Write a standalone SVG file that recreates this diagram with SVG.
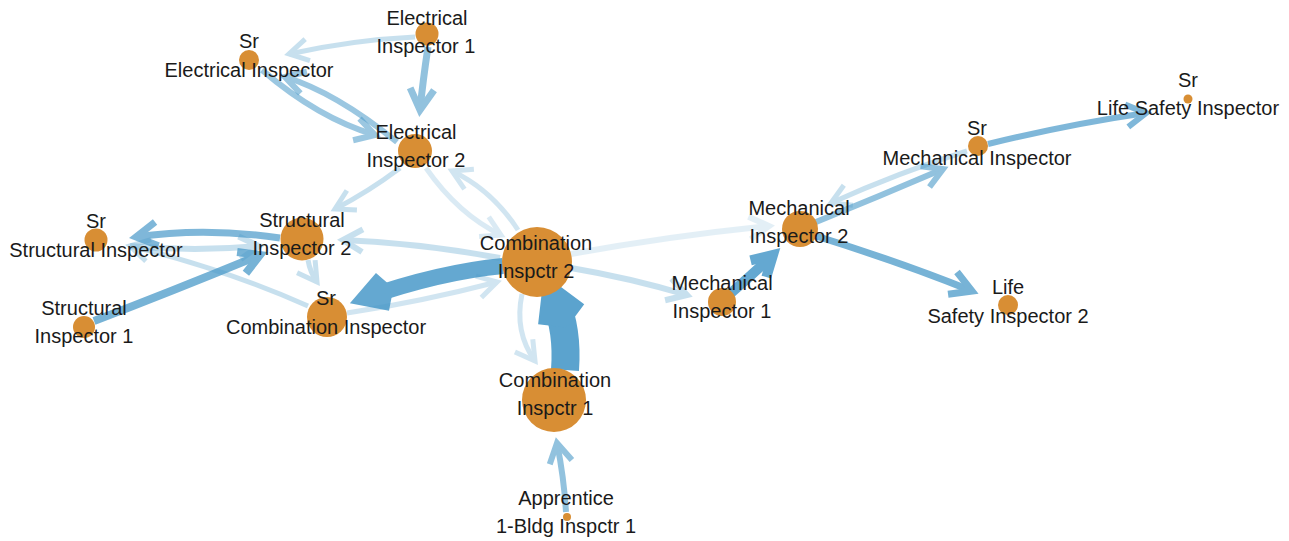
<svg xmlns="http://www.w3.org/2000/svg" width="1289" height="541" viewBox="0 0 1289 541">
  <style>
    .bg { fill: #ffffff; }
    .edge { fill: none; stroke: #4a9ac9; stroke-linecap: butt; }
    .head { fill: none; stroke: #4a9ac9; stroke-linejoin: miter; stroke-linecap: butt; }
    .node circle { fill: #d88e34; }
    .node text { font-family: "Liberation Sans", Arial, Helvetica, sans-serif; font-size: 20px; fill: #1a1a1a; text-anchor: middle; }
    .w4 { stroke-width: 5; marker-end: url(#a4); }
    .w5 { stroke-width: 6; marker-end: url(#a5); }
    .w6 { stroke-width: 7; marker-end: url(#a6); }
    .w7 { stroke-width: 8; marker-end: url(#a7); }
    .w9 { stroke-width: 10; marker-end: url(#a9); }
    .w14 { stroke-width: 16; marker-end: url(#a14); }
    .w28 { stroke-width: 28; marker-end: url(#a28); }
  </style>
  <defs>
    <!-- open chevron heads, one per line width -->
    <marker id="a4" markerUnits="userSpaceOnUse" orient="auto" overflow="visible" markerWidth="1" markerHeight="1" refX="0" refY="0">
      <path class="head" stroke-width="5" d="M-19,-11 L0,0 L-19,11"/>
    </marker>
    <marker id="a5" markerUnits="userSpaceOnUse" orient="auto" overflow="visible" markerWidth="1" markerHeight="1" refX="0" refY="0">
      <path class="head" stroke-width="6" d="M-19.5,-11.3 L0,0 L-19.5,11.3"/>
    </marker>
    <marker id="a6" markerUnits="userSpaceOnUse" orient="auto" overflow="visible" markerWidth="1" markerHeight="1" refX="0" refY="0">
      <path class="head" stroke-width="7" d="M-21,-12 L0,0 L-21,12"/>
    </marker>
    <marker id="a7" markerUnits="userSpaceOnUse" orient="auto" overflow="visible" markerWidth="1" markerHeight="1" refX="0" refY="0">
      <path class="head" stroke-width="8" d="M-20,-11.5 L0,0 L-20,11.5"/>
    </marker>
    <marker id="a9" markerUnits="userSpaceOnUse" orient="auto" overflow="visible" markerWidth="1" markerHeight="1" refX="0" refY="0">
      <path class="head" stroke-width="10" d="M-20,-11.5 L0,0 L-20,11.5"/>
    </marker>
    <marker id="a14" markerUnits="userSpaceOnUse" orient="auto" overflow="visible" markerWidth="1" markerHeight="1" refX="0" refY="0">
      <path class="head" stroke-width="16" d="M-22.5,-13 L0,0 L-22.5,13"/>
    </marker>
    <marker id="a28" markerUnits="userSpaceOnUse" orient="auto" overflow="visible" markerWidth="1" markerHeight="1" refX="0" refY="0">
      <path class="head" stroke-width="28" d="M-22.5,-13 L0,0 L-22.5,13"/>
    </marker>
  </defs>

  <rect class="bg" x="0" y="0" width="1289" height="541"/>

  <g id="edges">
    <path class="edge w4" opacity="0.3" d="M415,37 Q352,40 289,54"/>
    <path class="edge w6" opacity="0.6" d="M428,47 Q423,80 420,110"/>
    <path class="edge w5" opacity="0.55" d="M262,70 Q318,118 375,135"/>
    <path class="edge w5" opacity="0.55" d="M397,142 Q335,92 285,77"/>
    <path class="edge w4" opacity="0.3" d="M400,168 Q368,192 335,209"/>
    <path class="edge w4" opacity="0.25" d="M518,230 Q492,190 452,171"/>
    <path class="edge w4" opacity="0.2" d="M426,168 Q458,214 501,235"/>
    <path class="edge w5" opacity="0.3" d="M500,258 Q420,243 343,240"/>
    <path class="edge w6" opacity="0.7" d="M280,238 Q205,227 136,237"/>
    <path class="edge w5" opacity="0.3" d="M130,246 Q195,252 259,246"/>
    <path class="edge w7" opacity="0.75" d="M94,321 Q175,290 260,255"/>
    <path class="edge w4" opacity="0.3" d="M308,306 Q222,268 130,246"/>
    <path class="edge w4" opacity="0.3" d="M308,260 Q310,272 317,282"/>
    <path class="edge w14" opacity="0.85" d="M503,266 Q440,272 365,298"/>
    <path class="edge w4" opacity="0.25" d="M347,313 Q420,302 497,282"/>
    <path class="edge w4" opacity="0.25" d="M522,294 Q514,332 535,361"/>
    <path class="edge w28" opacity="0.9" d="M565,370 Q568,330 555,300"/>
    <path class="edge w5" opacity="0.6" d="M566,512 Q564,478 557,443"/>
    <path class="edge w5" opacity="0.3" d="M571,268 Q630,278 687,295"/>
    <path class="edge w5" opacity="0.15" d="M571,254 Q670,236 769,226"/>
    <path class="edge w9" opacity="0.85" d="M731,293 Q755,272 773,255"/>
    <path class="edge w5" opacity="0.6" d="M816,222 Q880,196 943,169"/>
    <path class="edge w4" opacity="0.3" d="M967,151 Q900,172 831,203"/>
    <path class="edge w6" opacity="0.75" d="M816,236 Q900,262 972,291"/>
    <path class="edge w5" opacity="0.7" d="M988,144 Q1070,124 1146,113"/>
  </g>

  <g id="node-electrical-inspector-1" class="node">
    <circle cx="427" cy="34" r="11.5"/>
    <text x="427" y="25">Electrical</text>
    <text x="426" y="53">Inspector 1</text>
  </g>
  <g id="node-sr-electrical-inspector" class="node">
    <circle cx="249" cy="60" r="10"/>
    <text x="249" y="48">Sr</text>
    <text x="249" y="77">Electrical Inspector</text>
  </g>
  <g id="node-electrical-inspector-2" class="node">
    <circle cx="415" cy="151" r="17"/>
    <text x="416" y="139">Electrical</text>
    <text x="416" y="167">Inspector 2</text>
  </g>
  <g id="node-structural-inspector-2" class="node">
    <circle cx="302" cy="239" r="21.5"/>
    <text x="302" y="227">Structural</text>
    <text x="302" y="255">Inspector 2</text>
  </g>
  <g id="node-sr-structural-inspector" class="node">
    <circle cx="96" cy="240" r="11.5"/>
    <text x="96" y="228">Sr</text>
    <text x="96" y="257">Structural Inspector</text>
  </g>
  <g id="node-structural-inspector-1" class="node">
    <circle cx="84" cy="327" r="11"/>
    <text x="84" y="315">Structural</text>
    <text x="84" y="343">Inspector 1</text>
  </g>
  <g id="node-sr-combination-inspector" class="node">
    <circle cx="327" cy="317" r="20"/>
    <text x="326" y="305">Sr</text>
    <text x="326" y="334">Combination Inspector</text>
  </g>
  <g id="node-combination-inspctr-2" class="node">
    <circle cx="537" cy="262" r="35"/>
    <text x="536" y="250">Combination</text>
    <text x="536" y="278">Inspctr 2</text>
  </g>
  <g id="node-combination-inspctr-1" class="node">
    <circle cx="554" cy="400" r="32"/>
    <text x="555" y="387">Combination</text>
    <text x="555" y="415">Inspctr 1</text>
  </g>
  <g id="node-apprentice" class="node">
    <circle cx="567" cy="517" r="4"/>
    <text x="566" y="505">Apprentice</text>
    <text x="566" y="533">1-Bldg Inspctr 1</text>
  </g>
  <g id="node-mechanical-inspector-1" class="node">
    <circle cx="722" cy="302" r="14"/>
    <text x="722" y="290">Mechanical</text>
    <text x="722" y="318">Inspector 1</text>
  </g>
  <g id="node-mechanical-inspector-2" class="node">
    <circle cx="800" cy="229" r="18"/>
    <text x="799" y="215">Mechanical</text>
    <text x="799" y="243">Inspector 2</text>
  </g>
  <g id="node-sr-mechanical-inspector" class="node">
    <circle cx="978" cy="146" r="10"/>
    <text x="977" y="135">Sr</text>
    <text x="977" y="165">Mechanical Inspector</text>
  </g>
  <g id="node-life-safety-inspector-2" class="node">
    <circle cx="1008" cy="305" r="10"/>
    <text x="1008" y="294">Life</text>
    <text x="1008" y="323">Safety Inspector 2</text>
  </g>
  <g id="node-sr-life-safety-inspector" class="node">
    <circle cx="1188" cy="99" r="4.5"/>
    <text x="1188" y="87">Sr</text>
    <text x="1188" y="115">Life Safety Inspector</text>
  </g>
</svg>
